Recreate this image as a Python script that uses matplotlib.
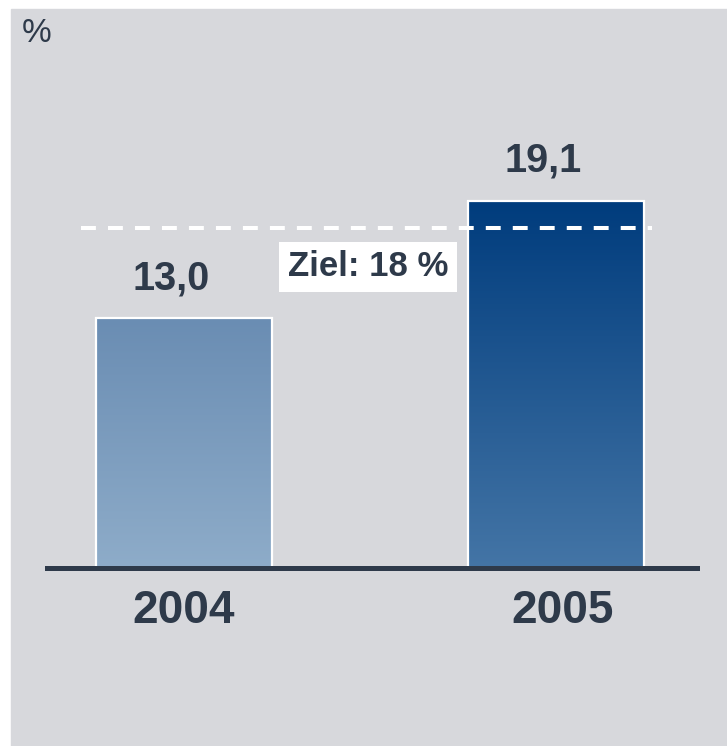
import matplotlib
matplotlib.use("Agg")
import matplotlib.pyplot as plt
import numpy as np
from matplotlib.colors import LinearSegmentedColormap
from matplotlib.patches import Rectangle
from matplotlib.transforms import ScaledTranslation

plt.rcParams["font.family"] = ["Liberation Sans", "DejaVu Sans"]

# ---------------------------------------------------------------------------
# Data
# ---------------------------------------------------------------------------
years = ["2004", "2005"]
values = [13.0, 19.1]
value_labels = ["13,0", "19,1"]
target_value = 17.7          # position of dashed line
target_label = "Ziel: 18 %"
unit_label = "%"

# (top colour, bottom colour) per bar
bar_gradients = [("#6a8db3", "#8eacc9"), ("#003c7d", "#4475a6")]
text_color = "#2e3a4a"
panel_color = "#d7d8dc"

# ---------------------------------------------------------------------------
# Figure
# ---------------------------------------------------------------------------
W, H = 727, 746
fig = plt.figure(figsize=(W / 100, H / 100), dpi=100, facecolor="white")
fig.add_artist(Rectangle((11 / W, 0), 1 - 11 / W, 1 - 9 / H,
                         transform=fig.transFigure, color=panel_color,
                         zorder=-10))

base_px = 568
ax = fig.add_axes([47 / W, (H - base_px) / H, 650 / W, (base_px - 9) / H])
ax.set_facecolor("none")
px_per_unit = 19.2
ax.set_ylim(0, (base_px - 9) / px_per_unit)
ax.set_xlim(-(184 - 47) / 372, (697 - 184) / 372)
for s in ax.spines.values():
    s.set_visible(False)
ax.set_yticks([])

width = 176 / 372
x = np.arange(len(years))
bars = ax.bar(x, values, width=width, color="none", edgecolor="white",
              linewidth=1.6, zorder=3)

for b, (top, bottom) in zip(bars, bar_gradients):
    cmap = LinearSegmentedColormap.from_list("g", [bottom, top])
    grad = np.linspace(0, 1, 256).reshape(-1, 1)
    x0, h = b.get_x(), b.get_height()
    im = ax.imshow(grad, cmap=cmap, aspect="auto", origin="lower",
                   extent=(x0, x0 + b.get_width(), 0, h), zorder=2)
    im.set_clip_path(b)

# value labels sit a little left of the bar centres in the original
for xi, v, lab in zip(x, values, value_labels):
    ax.text(xi - 0.035, v + 2.1, lab, ha="center", va="center",
            fontsize=28.5, fontweight="bold", color=text_color)

# baseline
ax.axhline(0, color=text_color, lw=3.6, zorder=4, clip_on=False)

# target line
ax.hlines(target_value, (81 - 184) / 372, (652 - 184) / 372, colors="white",
          linewidth=2.9, linestyles=(0, (3.7, 3.0)), zorder=5)
ax.text(0.495, 15.68, target_label, ha="center", va="center", fontsize=25,
        fontweight="bold", color=text_color, zorder=6,
        bbox=dict(boxstyle="square,pad=0.25", fc="white", ec="none"))

ax.set_xticks(x, years)
ax.tick_params(axis="x", length=0, pad=15, labelsize=33, labelcolor=text_color)
for i, t in enumerate(ax.get_xticklabels()):
    t.set_fontweight("bold")
    if i == 1:
        t.set_transform(t.get_transform()
                        + ScaledTranslation(7 / 100, 0, fig.dpi_scale_trans))

fig.text(22 / W, 1 - 33 / H, unit_label, ha="left", va="center",
         fontsize=24, color=text_color)

fig.savefig("out.png", dpi=100)
